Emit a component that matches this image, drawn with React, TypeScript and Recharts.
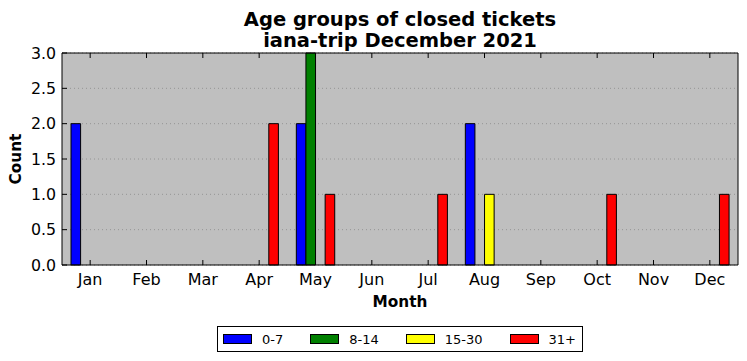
import React from 'react';
import { BarChart, Bar, XAxis, YAxis, CartesianGrid, Legend } from 'recharts';

const months = ['Jan', 'Feb', 'Mar', 'Apr', 'May', 'Jun', 'Jul', 'Aug', 'Sep', 'Oct', 'Nov', 'Dec'];
const age0to7 = [2, 0, 0, 0, 2, 0, 0, 2, 0, 0, 0, 0];
const age8to14 = [0, 0, 0, 0, 3, 0, 0, 0, 0, 0, 0, 0];
const age15to30 = [0, 0, 0, 0, 0, 0, 0, 1, 0, 0, 0, 0];
const age31plus = [0, 0, 0, 2, 1, 0, 1, 0, 0, 1, 0, 1];
const seriesNames = ['0-7', '8-14', '15-30', '31+'];
const seriesColors = ['#0000ff', '#008000', '#ffff00', '#ff0000'];
const yTicks = [0, 0.5, 1, 1.5, 2, 2.5, 3];
const titleLines = ['Age groups of closed tickets', 'iana-trip December 2021'];

const data = months.map((m, i) => ({
  month: m,
  a: age0to7[i],
  b: age8to14[i],
  c: age15to30[i],
  d: age31plus[i],
}));
const keys = ['a', 'b', 'c', 'd'];

const FONT = "'DejaVu Sans', sans-serif";

const LegendContent = () => {
  return (
    <div
      style={{
        boxSizing: 'border-box',
        width: 366,
        height: 26,
        border: '1px solid #000',
        background: '#fff',
        display: 'flex',
        alignItems: 'center',
        paddingLeft: 5,
        fontFamily: FONT,
        fontSize: 13,
        color: '#000',
        whiteSpace: 'nowrap',
      }}
    >
      {seriesNames.map((name, i) => (
        <div key={i} style={{ display: 'flex', alignItems: 'center', marginRight: 27, flexShrink: 0 }}>
          <div
            style={{
              boxSizing: 'border-box',
              width: 29,
              height: 10,
              background: seriesColors[i],
              border: '1px solid #000',
              marginRight: 10,
              flexShrink: 0,
            }}
          />
          <span style={{ whiteSpace: 'nowrap' }}>{name}</span>
        </div>
      ))}
    </div>
  );
};

export default function App() {
  return (
    <div style={{ position: 'absolute', left: 0, top: 0, width: 747, height: 361, background: '#fff' }}>
      <div
        style={{
          position: 'absolute',
          left: 62,
          top: 8.5,
          width: 676,
          textAlign: 'center',
          fontFamily: FONT,
          fontWeight: 'bold',
          fontSize: 19.5,
          lineHeight: '21px',
          color: '#000',
          zIndex: 2,
        }}
      >
        {titleLines.map((t, i) => (
          <div key={i}>{t}</div>
        ))}
      </div>
      <BarChart
        width={747}
        height={361}
        data={data}
        margin={{ top: 52, right: 8, bottom: 66, left: 0 }}
        barGap={0}
      >
        <CartesianGrid
          vertical={false}
          fill="#bfbfbf"
          fillOpacity={1}
          stroke="#8a8a8a"
          strokeDasharray="1 3"
          strokeWidth={0.8}
        />
        <XAxis
          dataKey="month"
          height={30}
          axisLine={{ stroke: '#000' }}
          tickLine={{ stroke: '#000' }}
          tickSize={-5}
          tickMargin={14}
          tick={{ fontFamily: FONT, fontSize: 16, fill: '#000' }}
          interval={0}
          label={{
            value: 'Month',
            position: 'bottom',
            offset: 1,
            style: { fontFamily: FONT, fontSize: 15.3, fontWeight: 'bold', fill: '#000' },
          }}
        />
        <XAxis
          xAxisId="top"
          dataKey="month"
          orientation="top"
          height={1}
          axisLine={{ stroke: '#000' }}
          tickLine={{ stroke: '#000' }}
          tickSize={-5}
          tickFormatter={() => ''}
          interval={0}
        />
        <YAxis
          type="number"
          domain={[0, 3]}
          ticks={yTicks}
          width={62}
          axisLine={{ stroke: '#000' }}
          tickLine={{ stroke: '#000' }}
          tickSize={-5}
          tickMargin={11}
          tickFormatter={(v: number) => v.toFixed(1)}
          tick={{ fontFamily: FONT, fontSize: 15.8, fill: '#000' }}
          interval={0}
          label={{
            value: 'Count',
            angle: -90,
            position: 'insideLeft',
            offset: 16,
            style: { textAnchor: 'middle', fontFamily: FONT, fontSize: 15.3, fontWeight: 'bold', fill: '#000' },
          }}
        />
        <YAxis
          yAxisId="right"
          orientation="right"
          type="number"
          domain={[0, 3]}
          ticks={yTicks}
          width={1}
          axisLine={{ stroke: '#000' }}
          tickLine={{ stroke: '#000' }}
          tickSize={-5}
          tickFormatter={() => ''}
          interval={0}
        />
        <Legend
          layout="horizontal"
          verticalAlign="middle"
          align="center"
          wrapperStyle={{ position: 'absolute', left: 217, top: 326, width: 366, height: 26 }}
          content={LegendContent}
        />
        {keys.map((k, i) => (
          <Bar
            key={k}
            dataKey={k}
            name={seriesNames[i]}
            fill={seriesColors[i]}
            stroke="#000"
            strokeWidth={1}
            barSize={9.6}
            isAnimationActive={false}
          />
        ))}
      </BarChart>
    </div>
  );
}
